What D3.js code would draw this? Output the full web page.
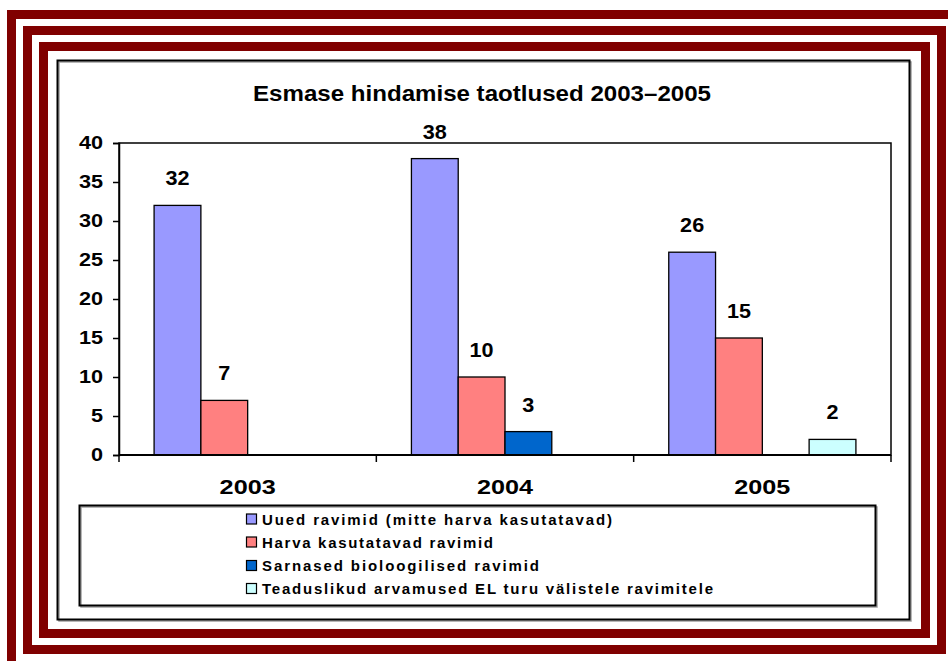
<!DOCTYPE html>
<html>
<head>
<meta charset="utf-8">
<script src="https://cdn.jsdelivr.net/npm/d3@7"></script>
<style>
  html, body { margin: 0; padding: 0; background: #fff; }
  svg { display: block; font-family: Arial, "Liberation Sans", sans-serif; }
</style>
</head>
<body>
<svg id="chart" width="948" height="661"></svg>
<script>
// Applications for initial evaluation, by year and type
const categories = ["2003", "2004", "2005"];
const seriesNames = [
  "Uued ravimid (mitte harva kasutatavad)",
  "Harva kasutatavad ravimid",
  "Sarnased bioloogilised ravimid",
  "Teaduslikud arvamused EL turu välistele ravimitele"
];
const uued = [32, 38, 26];
const harva = [7, 10, 15];
const sarnased = [null, 3, null];
const teaduslikud = [null, null, 2];
const seriesValues = [uued, harva, sarnased, teaduslikud];
const seriesColors = ["#9999FF", "#FF8080", "#0066CC", "#CCFFFF"];
const yTicks = [0, 5, 10, 15, 20, 25, 30, 35, 40];
const titleText = "Esmase hindamise taotlused 2003–2005";

const svg = d3.select("#chart");
const frameColor = "#800000";

// Widen glyphs of a text selection by a horizontal factor
function widen(sel, factor) {
  sel.each(function () {
    const w = this.getComputedTextLength();
    d3.select(this).attr("textLength", w * factor).attr("lengthAdjust", "spacingAndGlyphs");
  });
}

// Decorative striped frame
const stripes = [
  { x0: 11.5, y0: 14.5, x1: 962, y1: 675 },
  { x0: 27.5, y0: 30.5, x1: 941.5, y1: 649.5 },
  { x0: 43.5, y0: 46.5, x1: 925.5, y1: 633.5 }
];
svg.selectAll("rect.stripe").data(stripes).join("rect")
  .attr("class", "stripe")
  .attr("x", d => d.x0).attr("y", d => d.y0)
  .attr("width", d => d.x1 - d.x0).attr("height", d => d.y1 - d.y0)
  .attr("fill", "none").attr("stroke", frameColor).attr("stroke-width", 9);

// Boxes with a soft grey shadow
function shadowBox(x0, y0, x1, y1) {
  svg.append("rect").attr("x", x0 + 1.5).attr("y", y0 + 1.5)
    .attr("width", x1 - x0).attr("height", y1 - y0)
    .attr("fill", "none").attr("stroke", "#a0a0a0").attr("stroke-width", 1.5);
  svg.append("rect").attr("x", x0).attr("y", y0)
    .attr("width", x1 - x0).attr("height", y1 - y0)
    .attr("fill", "none").attr("stroke", "#000").attr("stroke-width", 2);
}
shadowBox(57.5, 60.5, 909.5, 619.5);

// Title
svg.append("text")
  .attr("x", 482).attr("y", 101)
  .attr("text-anchor", "middle")
  .attr("font-size", 22).attr("font-weight", "bold")
  .text(titleText)
  .call(widen, 1.095);

// Scales
const plot = { left: 119, right: 891, top: 143, bottom: 455 };
const x0 = d3.scaleBand().domain(categories).range([plot.left, plot.right]).padding(0);
const x1 = d3.scaleBand().domain(d3.range(seriesNames.length))
  .range([0, x0.bandwidth()]).paddingInner(0).paddingOuter(0.75);
const y = d3.scaleLinear().domain([0, 40]).range([plot.bottom, plot.top]);

// Plot area frame
svg.append("rect")
  .attr("x", plot.left).attr("y", plot.top)
  .attr("width", plot.right - plot.left).attr("height", plot.bottom - plot.top)
  .attr("fill", "none").attr("stroke", "#000").attr("stroke-width", 1.5);

// Bars
const bars = [];
categories.forEach((c, ci) => {
  seriesValues.forEach((vals, si) => {
    if (vals[ci] != null) bars.push({ c, si, v: vals[ci] });
  });
});
svg.append("g").selectAll("rect").data(bars).join("rect")
  .attr("x", d => x0(d.c) + x1(d.si))
  .attr("y", d => y(d.v))
  .attr("width", x1.bandwidth())
  .attr("height", d => y(0) - y(d.v))
  .attr("fill", d => seriesColors[d.si])
  .attr("stroke", "#000").attr("stroke-width", 1.3);

// Value labels
svg.append("g").selectAll("text").data(bars).join("text")
  .attr("x", d => x0(d.c) + x1(d.si) + x1.bandwidth() / 2)
  .attr("y", d => y(d.v) - 20)
  .attr("text-anchor", "middle")
  .attr("font-size", 20).attr("font-weight", "bold")
  .text(d => d.v)
  .call(widen, 1.08);

// Y axis
const yAxis = svg.append("g")
  .attr("transform", `translate(${plot.left},0)`)
  .call(d3.axisLeft(y).tickValues(yTicks).tickSize(6).tickPadding(10));
yAxis.select(".domain").attr("stroke", "#000").attr("stroke-width", 1.5);
yAxis.selectAll(".tick line").attr("stroke", "#000").attr("stroke-width", 1.5);
yAxis.selectAll(".tick text")
  .attr("font-size", 18.5).attr("font-weight", "bold").attr("fill", "#000")
  .attr("font-family", "Arial, 'Liberation Sans', sans-serif")
  .call(widen, 1.17);

// X axis: baseline, group boundary ticks, category labels
const boundaries = categories.map(c => x0(c)).concat([plot.right]);
svg.append("line")
  .attr("x1", plot.left).attr("x2", plot.right)
  .attr("y1", y(0)).attr("y2", y(0))
  .attr("stroke", "#000").attr("stroke-width", 2);
svg.append("g").selectAll("line").data(boundaries).join("line")
  .attr("x1", d => d).attr("x2", d => d)
  .attr("y1", y(0)).attr("y2", y(0) + 7)
  .attr("stroke", "#000").attr("stroke-width", 1.5);
svg.append("g").selectAll("text").data(categories).join("text")
  .attr("x", d => x0(d) + x0.bandwidth() / 2)
  .attr("y", 494)
  .attr("text-anchor", "middle")
  .attr("font-size", 21).attr("font-weight", "bold")
  .text(d => d)
  .call(widen, 1.2);

// Legend
shadowBox(79.5, 505.5, 875.5, 605.5);
const legendY = [519, 542, 565.5, 588.5];
const legendW = [350, 231, 277, 451];
const lg = svg.append("g").selectAll("g").data(seriesNames).join("g")
  .attr("transform", (d, i) => `translate(246,${legendY[i]})`);
lg.append("rect")
  .attr("x", 0.5).attr("y", -5)
  .attr("width", 10).attr("height", 10)
  .attr("fill", (d, i) => seriesColors[i])
  .attr("stroke", "#000").attr("stroke-width", 1.2);
lg.append("text")
  .attr("x", 16).attr("y", 5.5)
  .attr("font-size", 15).attr("font-weight", "bold")
  .attr("textLength", (d, i) => legendW[i])
  .attr("lengthAdjust", "spacing")
  .text(d => d);
</script>
</body>
</html>
